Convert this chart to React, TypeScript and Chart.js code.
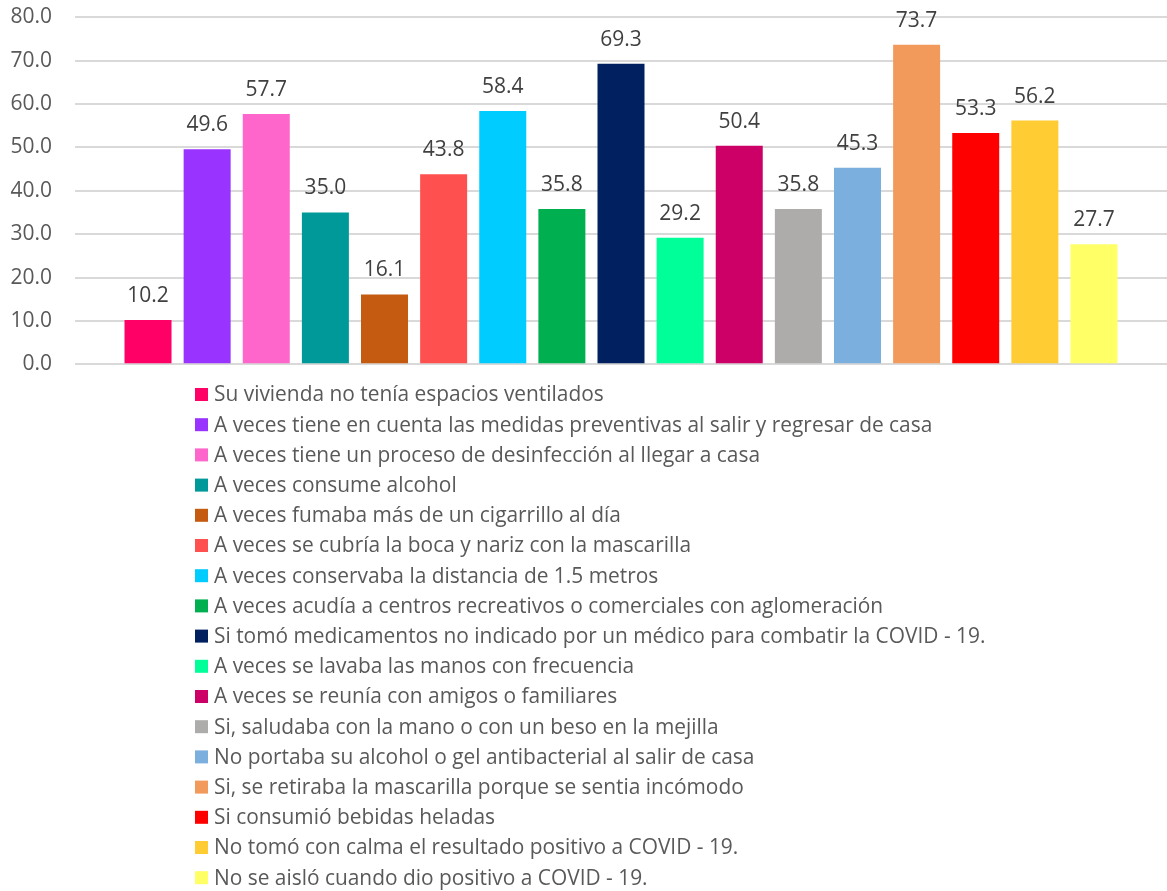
import React, { useEffect, useRef } from "react";
import { Chart, registerables } from "chart.js";

Chart.register(...registerables);

const seriesLabels: string[] = [
  "Su vivienda no tenía espacios ventilados",
  "A veces tiene en cuenta las medidas preventivas al salir y regresar de casa",
  "A veces tiene un proceso de desinfección al llegar a casa",
  "A veces consume alcohol",
  "A veces fumaba más de un cigarrillo al día",
  "A veces se cubría la boca y nariz con la mascarilla",
  "A veces conservaba la distancia de 1.5 metros",
  "A veces acudía a centros recreativos o comerciales con aglomeración",
  "Si tomó medicamentos no indicado por un médico para combatir la COVID - 19.",
  "A veces se lavaba las manos con frecuencia",
  "A veces se reunía con amigos o familiares",
  "Si, saludaba con la mano o con un beso en la mejilla",
  "No portaba su alcohol o gel antibacterial al salir de casa",
  "Si, se retiraba la mascarilla porque se sentia incómodo",
  "Si consumió bebidas heladas",
  "No tomó con calma el resultado positivo a COVID - 19.",
  "No se aisló cuando dio positivo a COVID - 19.",
];

const seriesValues: number[] = [
  10.2, 49.6, 57.7, 35.0, 16.1, 43.8, 58.4, 35.8, 69.3, 29.2, 50.4, 35.8, 45.3,
  73.7, 53.3, 56.2, 27.7,
];

const seriesColors: string[] = [
  "#FF0066", "#9933FF", "#FF66CC", "#009999", "#C55A11", "#FF5050", "#00CCFF",
  "#00B050", "#002060", "#00FF99", "#CC0066", "#AEABAB", "#7BAFDE", "#F29A5C",
  "#FF0000", "#FFCC33", "#FFFF66",
];

const categories: string[] = [""];
const yMin = 0;
const yMax = 80;
const yStep = 10;

const FONT = "'Open Sans', sans-serif";

const valueLabels = {
  id: "valueLabels",
  afterDatasetsDraw(chart: any) {
    const ctx = chart.ctx;
    ctx.save();
    ctx.font = `21px ${FONT}`;
    ctx.fillStyle = "#404040";
    ctx.textAlign = "center";
    ctx.textBaseline = "alphabetic";
    chart.data.datasets.forEach((ds: any, i: number) => {
      const meta = chart.getDatasetMeta(i);
      meta.data.forEach((bar: any, j: number) => {
        const v = ds.data[j] as number;
        ctx.fillText(v.toFixed(1), bar.x, bar.y - 18);
      });
    });
    ctx.restore();
  },
};

// Vertical legend list drawn under the plot, one entry per dataset
const listLegend = {
  id: "listLegend",
  afterDraw(chart: any) {
    const ctx = chart.ctx;
    const boxX = 195;
    const textX = 214;
    const firstY = 394.5;
    const rowH = 30.2;
    const box = 13;
    ctx.save();
    // fit the longest entry to the reference width
    ctx.font = `20px ${FONT}`;
    let longest = 0;
    chart.data.datasets.forEach((ds: any) => {
      longest = Math.max(longest, ctx.measureText(ds.label).width);
    });
    const size = longest > 0 ? (20 * 772) / longest : 20;
    ctx.font = `${size}px ${FONT}`;
    ctx.textAlign = "left";
    ctx.textBaseline = "middle";
    chart.data.datasets.forEach((ds: any, i: number) => {
      const yc = firstY + i * rowH;
      ctx.fillStyle = ds.backgroundColor;
      ctx.fillRect(boxX, yc - box / 2, box, box);
      ctx.fillStyle = "#595959";
      ctx.fillText(ds.label, textX, yc + 1);
    });
    ctx.restore();
  },
};

export default function App() {
  const ref = useRef<HTMLCanvasElement | null>(null);

  useEffect(() => {
    if (!ref.current) return;
    const chart = new Chart(ref.current, {
      type: "bar",
      data: {
        labels: categories,
        datasets: seriesLabels.map((label, i) => ({
          label,
          data: [seriesValues[i]],
          backgroundColor: seriesColors[i],
          borderWidth: 0,
          categoryPercentage: 0.9204,
          barPercentage: 0.795,
        })),
      },
      options: {
        responsive: false,
        animation: false,
        layout: { padding: { left: 0, right: 0, top: 17.3, bottom: 526.7 } },
        plugins: {
          tooltip: { enabled: false },
          legend: { display: false },
        },
        scales: {
          x: {
            display: false,
            grid: { display: false },
          },
          y: {
            min: yMin,
            max: yMax,
            afterFit: (scale: any) => {
              scale.width = 75;
            },
            ticks: {
              stepSize: yStep,
              padding: 0,
              color: "#595959",
              font: { family: FONT, size: 21 },
              callback: (v: any) => Number(v).toFixed(1),
            },
            border: { display: false },
            grid: {
              color: "#d9d9d9",
              lineWidth: 2,
              drawTicks: true,
              tickLength: 23,
              tickColor: "rgba(0,0,0,0)",
            },
          },
        },
      },
      plugins: [valueLabels, listLegend],
    });
    return () => chart.destroy();
  }, []);

  return (
    <div style={{ position: "absolute", left: 0, top: 0, width: 1167, height: 891 }}>
      <canvas ref={ref} width={1167} height={891} />
    </div>
  );
}
